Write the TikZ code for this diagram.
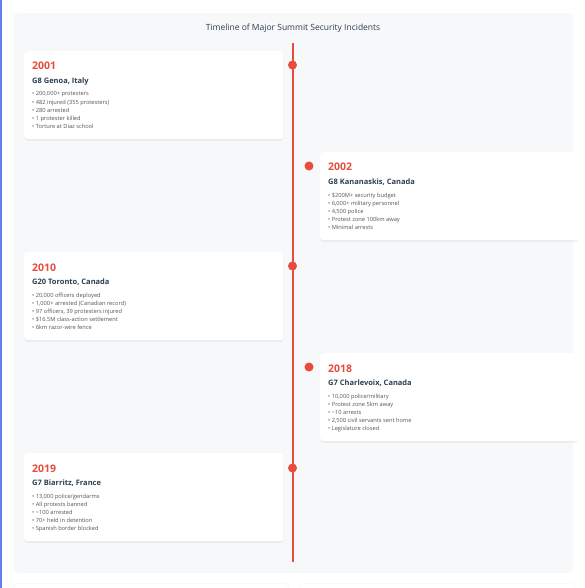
\documentclass[tikz,border=0pt]{standalone}
\usepackage{fontspec}
\setmainfont{Open Sans}
\usetikzlibrary{positioning,shadows}
\definecolor{accent}{HTML}{E74C3C}
\definecolor{heading}{HTML}{2C3E50}
\definecolor{bodytext}{HTML}{555555}
\definecolor{panelbg}{HTML}{F7F8FA}
\definecolor{edgeline}{HTML}{667EEA}

\begin{document}
\begin{tikzpicture}[x=1pt,y=-1pt,
    card/.style={fill=white, rounded corners=3pt, minimum width=259pt, minimum height=88pt,
        anchor=north west, inner sep=0pt,
        drop shadow={opacity=0.12, shadow xshift=0pt, shadow yshift=-1.5pt}},
    year/.style={anchor=base west, inner sep=0pt, text=accent, font=\fontsize{10.5}{12}\selectfont\bfseries},
    place/.style={anchor=base west, inner sep=0pt, text=heading, font=\fontsize{7.5}{9}\selectfont\bfseries},
    facts/.style={anchor=north west, inner sep=0pt, text=bodytext, align=left, font=\fontsize{5.7}{8.2}\selectfont},
    dot/.style={circle, fill=accent, inner sep=0pt, minimum size=9pt}]
    \useasboundingbox (0,0) rectangle (584,588);
    % page edge and panel
    \fill[edgeline] (0,0) rectangle (1.5,588);
    \fill[panelbg, rounded corners=4pt] (13.5,13) rectangle (573,573);
    \node[text=heading, font=\fontsize{8.5}{10}\selectfont] (title) at (293,28) {Timeline of Major Summit Security Incidents};
    % next cards, cut off at the bottom
    \filldraw[fill=white, draw=black!6, rounded corners=4pt] (13.5,583.5) rectangle (289,600);
    \filldraw[fill=white, draw=black!6, rounded corners=4pt] (300,583.5) rectangle (575,600);
    % timeline
    \coordinate (tlstart) at (292.5,43);
    \coordinate (tlend) at (292.5,562);
    \draw[accent, line width=2pt] (tlstart) -- (tlend);

    % 2001
    \node[card] (c1) at (24,51) {};
    \node[year] (y1) at ([xshift=8pt,yshift=-19pt]c1.north west) {2001};
    \node[place] (p1) at ([xshift=8pt,yshift=-32.5pt]c1.north west) {G8 Genoa, Italy};
    \node[facts] (f1) at ([xshift=8pt,yshift=-40.5pt]c1.north west) {• 200,000+ protesters\\ • 482 injured (355 protesters)\\ • 280 arrested\\ • 1 protester killed\\ • Torture at Diaz school};
    \node[dot] (d1) at (292.5,65) {};

    % 2002
    \node[card] (c2) at (320,152) {};
    \node[year] (y2) at ([xshift=8pt,yshift=-19pt]c2.north west) {2002};
    \node[place] (p2) at ([xshift=8pt,yshift=-32.5pt]c2.north west) {G8 Kananaskis, Canada};
    \node[facts] (f2) at ([xshift=8pt,yshift=-40.5pt]c2.north west) {• \$200M+ security budget\\ • 6,000+ military personnel\\ • 4,500 police\\ • Protest zone 100km away\\ • Minimal arrests};
    \node[dot] (d2) at (309,166) {};

    % 2010
    \node[card] (c3) at (24,252) {};
    \node[year] (y3) at ([xshift=8pt,yshift=-19pt]c3.north west) {2010};
    \node[place] (p3) at ([xshift=8pt,yshift=-32.5pt]c3.north west) {G20 Toronto, Canada};
    \node[facts] (f3) at ([xshift=8pt,yshift=-40.5pt]c3.north west) {• 20,000 officers deployed\\ • 1,000+ arrested (Canadian record)\\ • 97 officers, 39 protesters injured\\ • \$16.5M class-action settlement\\ • 6km razor-wire fence};
    \node[dot] (d3) at (292.5,266) {};

    % 2018
    \node[card] (c4) at (320,353) {};
    \node[year] (y4) at ([xshift=8pt,yshift=-19pt]c4.north west) {2018};
    \node[place] (p4) at ([xshift=8pt,yshift=-32.5pt]c4.north west) {G7 Charlevoix, Canada};
    \node[facts] (f4) at ([xshift=8pt,yshift=-40.5pt]c4.north west) {• 10,000 police/military\\ • Protest zone 5km away\\ • \textasciitilde10 arrests\\ • 2,500 civil servants sent home\\ • Legislature closed};
    \node[dot] (d4) at (309,367) {};

    % 2019
    \node[card] (c5) at (24,453) {};
    \node[year] (y5) at ([xshift=8pt,yshift=-19pt]c5.north west) {2019};
    \node[place] (p5) at ([xshift=8pt,yshift=-32.5pt]c5.north west) {G7 Biarritz, France};
    \node[facts] (f5) at ([xshift=8pt,yshift=-40.5pt]c5.north west) {• 13,000 police/gendarms\\ • All protests banned\\ • \textasciitilde100 arrested\\ • 70+ held in detention\\ • Spanish border blocked};
    \node[dot] (d5) at (292.5,468) {};
\end{tikzpicture}
\end{document}
